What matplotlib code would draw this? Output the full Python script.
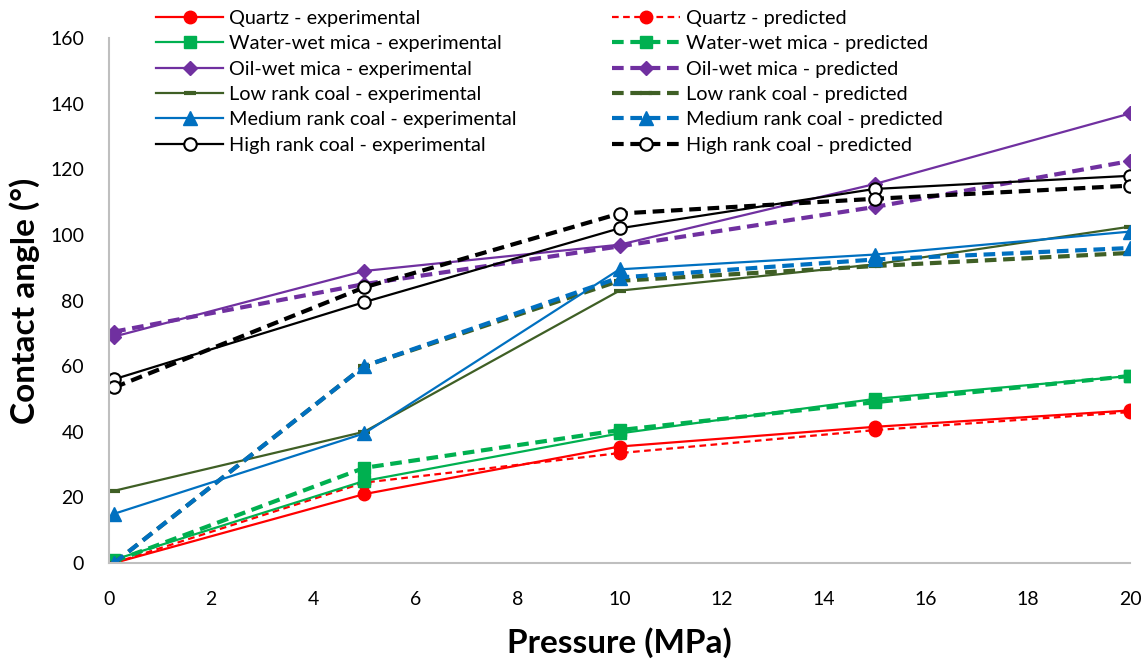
import matplotlib.pyplot as plt

plt.rcParams['font.family'] = ['Lato', 'DejaVu Sans']

pressure = [0.1, 5, 10, 15, 20]

quartz_exp = [0, 21, 35.5, 41.5, 46.5]
quartz_pred = [0, 24.5, 33.5, 40.5, 46]
water_mica_exp = [1, 25, 39.5, 50, 57]
water_mica_pred = [0.5, 29, 40.5, 49, 57]
oil_mica_exp = [69, 89, 97, 115.5, 137]
oil_mica_pred = [70.5, 85, 96.5, 108.5, 122.5]
low_coal_exp = [22, 40, 83, 91, 102.5]
low_coal_pred = [0, 60, 86, 90.5, 94.5]
med_coal_exp = [15, 39.5, 89.5, 94, 101]
med_coal_pred = [0, 60, 87, 92.5, 96]
high_coal_exp = [56, 79.5, 102, 114, 118]
high_coal_pred = [53.5, 84, 106.5, 111, 115]

names = ["Quartz", "Water-wet mica", "Oil-wet mica",
         "Low rank coal", "Medium rank coal", "High rank coal"]
colors = ["#FF0000", "#00B050", "#7030A0", "#3F5F25", "#0070C0", "#000000"]
markers = ["o", "s", "D", "_", "^", "o"]
msizes = [9, 9, 7, 8, 10, 9]
exp_data = [quartz_exp, water_mica_exp, oil_mica_exp,
            low_coal_exp, med_coal_exp, high_coal_exp]
pred_data = [quartz_pred, water_mica_pred, oil_mica_pred,
             low_coal_pred, med_coal_pred, high_coal_pred]

fig = plt.figure(figsize=(11.47, 6.6), dpi=100)
ax = fig.add_axes([109 / 1147, 1 - 563 / 660, 1021 / 1147, 525 / 660])

exp_handles = []
pred_handles = []
for name, c, m, ms, ye, yp in zip(names, colors, markers, msizes, exp_data, pred_data):
    face = "white" if name == "High rank coal" else c
    mew = 1.5 if name == "High rank coal" else (3 if m == "_" else 1)
    h1, = ax.plot(pressure, ye, color=c, lw=1.6, marker=m, ms=ms,
                  mfc=face, mec=c, mew=mew, label=f"{name} - experimental")
    if name == "Quartz":
        lw_pred, dash = 1.6, (0, (3, 2))
    else:
        lw_pred, dash = 3, (0, (2.8, 1.6))
    h2, = ax.plot(pressure, yp, color=c, lw=lw_pred, ls=dash,
                  marker=m, ms=ms, mfc=face, mec=c, mew=mew,
                  label=f"{name} - predicted")
    exp_handles.append(h1)
    pred_handles.append(h2)

ax.set_xlim(0, 20)
ax.set_ylim(0, 160)
ax.set_xticks(range(0, 21, 2))
ax.set_yticks(range(0, 161, 20))
ax.tick_params(length=0, labelsize=14)
ax.tick_params(axis="y", pad=18)
ax.tick_params(axis="x", pad=20)
for s in ("top", "right"):
    ax.spines[s].set_visible(False)
for s in ("left", "bottom"):
    ax.spines[s].set_color("#BFBFBF")
    ax.spines[s].set_linewidth(1.5)

ax.set_xlabel("Pressure (MPa)", fontsize=24, fontweight="bold", labelpad=14)
ax.set_ylabel("Contact angle (°)", fontsize=24, fontweight="bold", labelpad=7)

leg = fig.legend(exp_handles + pred_handles,
                 [h.get_label() for h in exp_handles + pred_handles],
                 ncol=2, loc="upper left", bbox_to_anchor=(138 / 1147, 1.012),
                 frameon=False, fontsize=14.3, handlelength=3.4,
                 columnspacing=4.8, labelspacing=0.42, handletextpad=0.3)

fig.savefig("out.png", dpi=100)
